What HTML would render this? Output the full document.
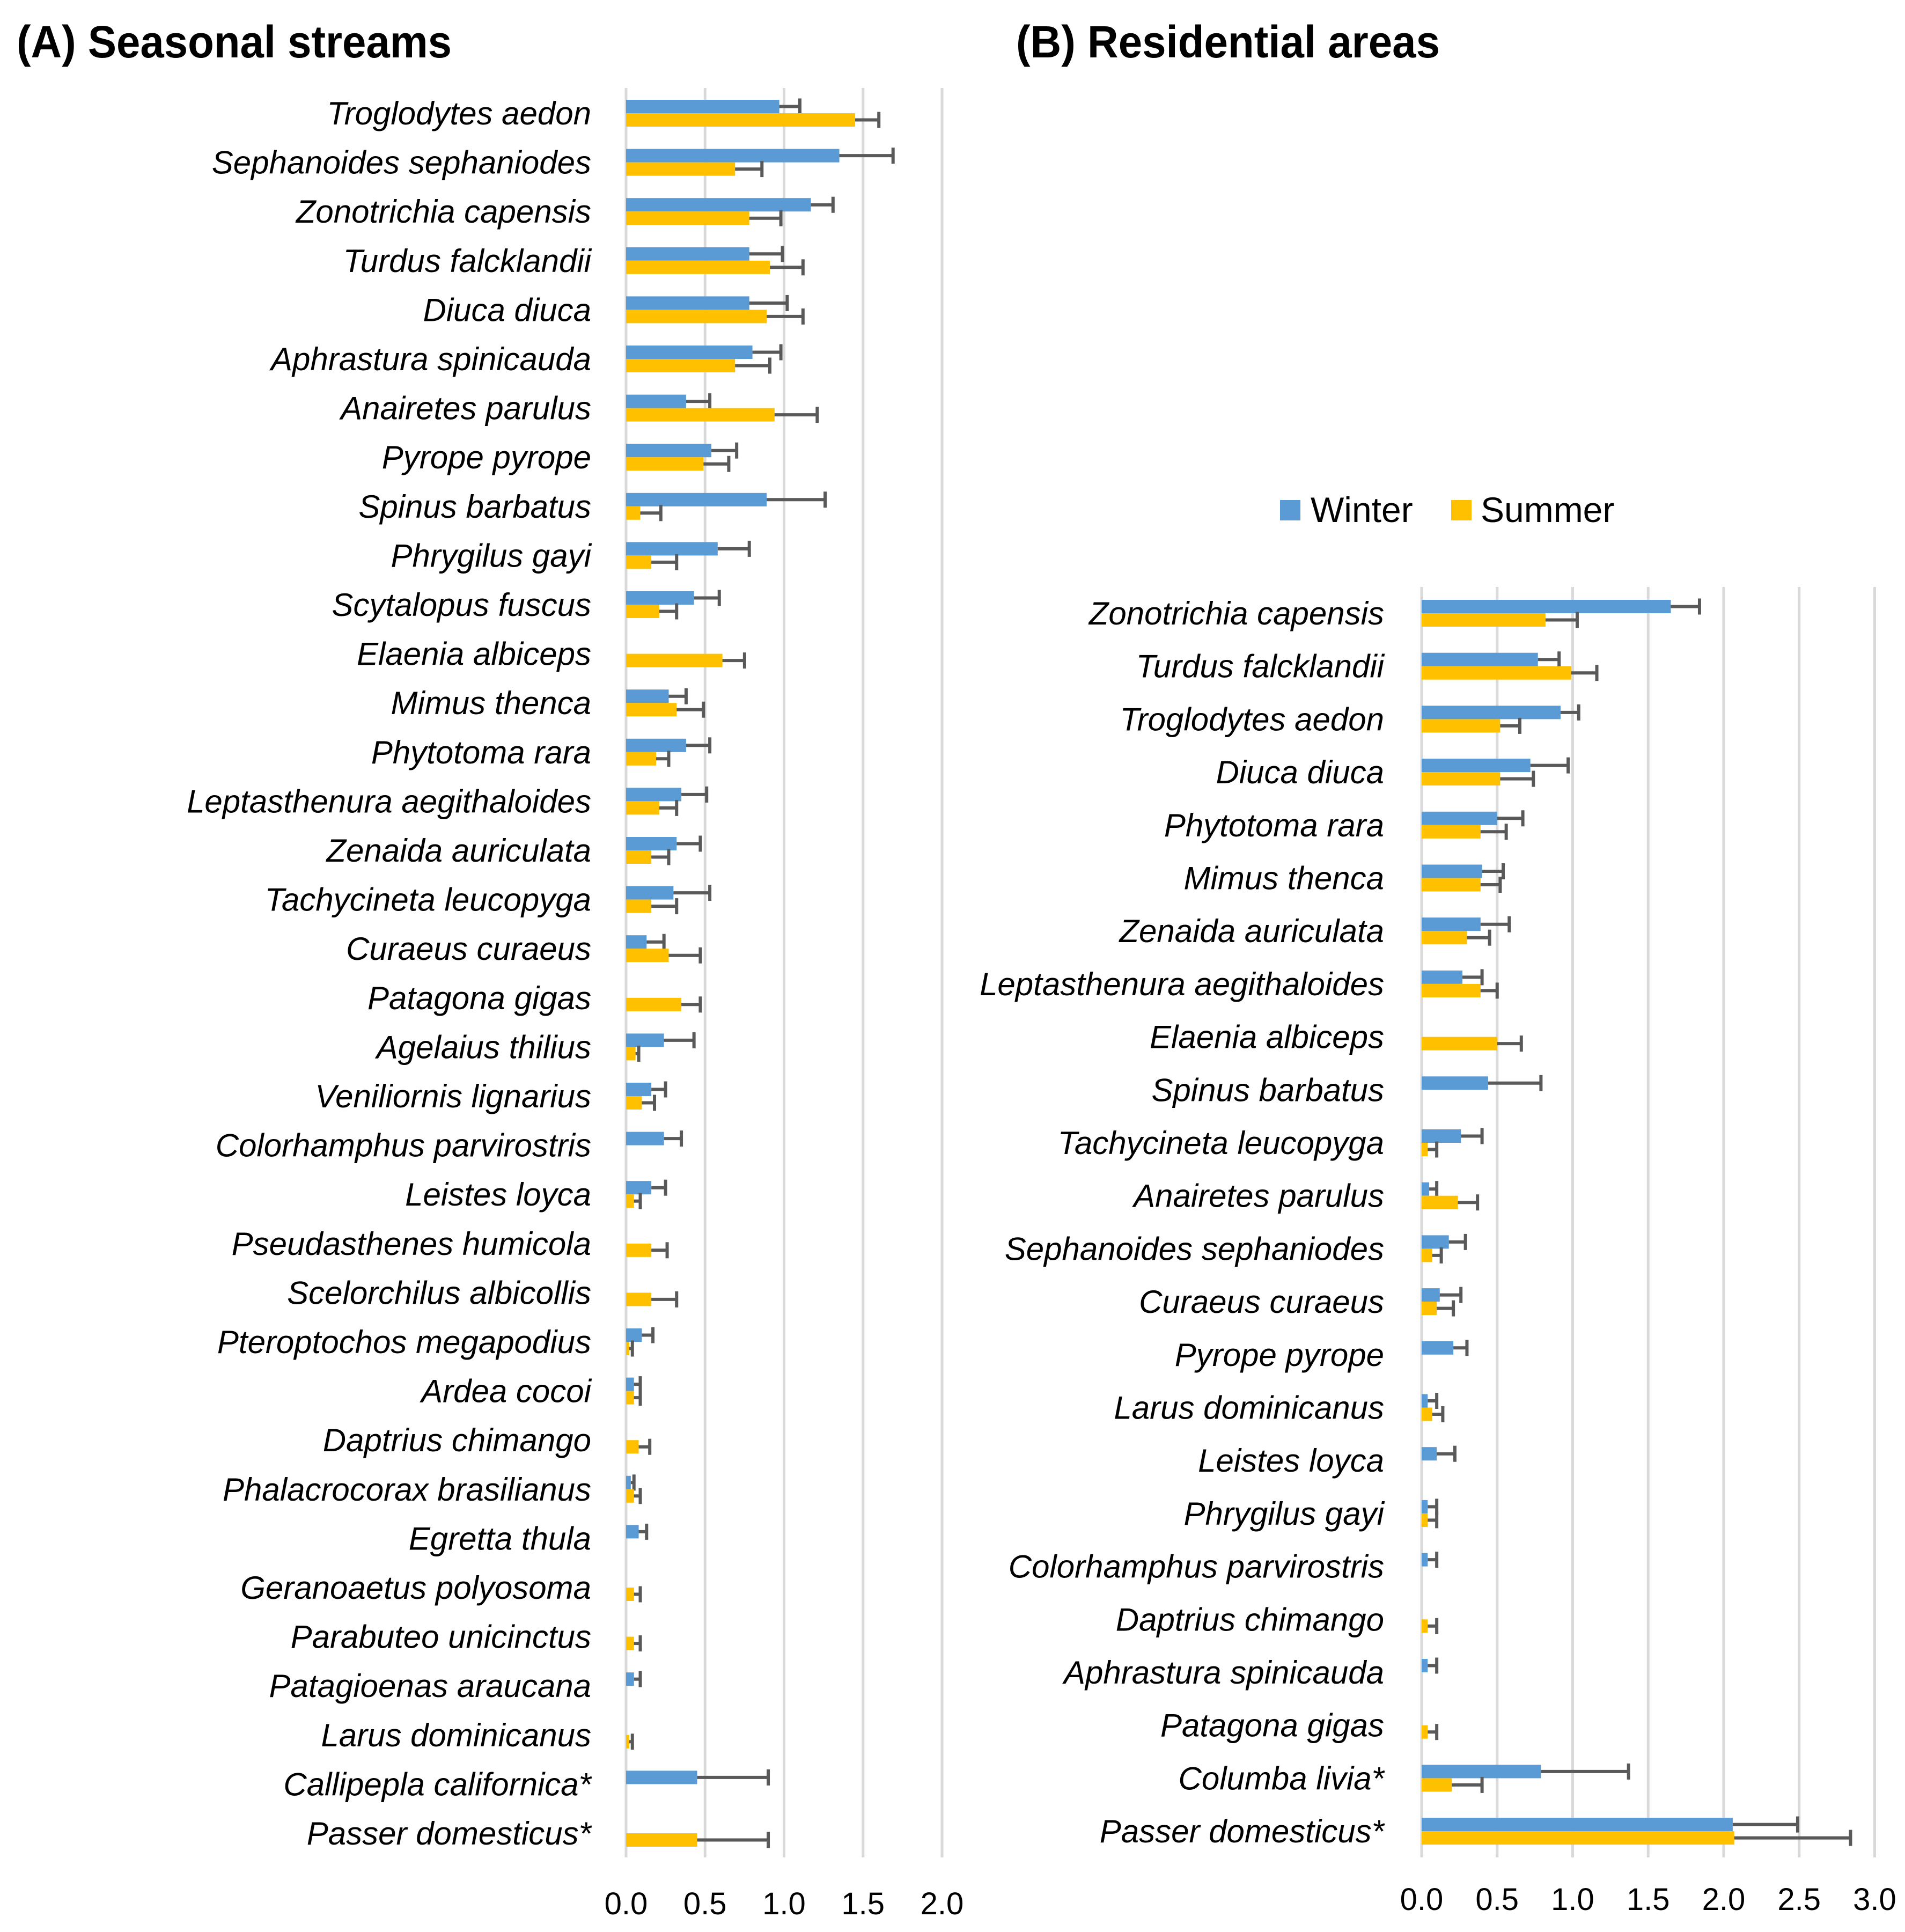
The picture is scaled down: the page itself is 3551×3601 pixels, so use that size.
<!DOCTYPE html>
<html><head><meta charset="utf-8"><style>
html,body{margin:0;padding:0;background:#fff;}
svg{display:block;}
text{font-family:"Liberation Sans",sans-serif;fill:#000;}
</style></head><body>
<svg id="chart" width="3551" height="3601" viewBox="0 0 3551 3601" xmlns="http://www.w3.org/2000/svg">
<text x="31" y="107" font-size="84" font-weight="bold" textLength="811" lengthAdjust="spacingAndGlyphs">(A) Seasonal streams</text>
<text x="1894" y="107" font-size="84" font-weight="bold" textLength="790" lengthAdjust="spacingAndGlyphs">(B) Residential areas</text>
<g>
<rect x="2386" y="932" width="38" height="38" fill="#5B9BD5"/>
<text x="2443" y="973" font-size="66">Winter</text>
<rect x="2705" y="932" width="38" height="38" fill="#FFC000"/>
<text x="2760" y="973" font-size="66">Summer</text>
</g>
<g id="panelA"></g>
<g id="panelB"></g>
</svg>
<script>
// Panel A data
const catsA = ["Troglodytes aedon","Sephanoides sephaniodes","Zonotrichia capensis","Turdus falcklandii","Diuca diuca","Aphrastura spinicauda","Anairetes parulus","Pyrope pyrope","Spinus barbatus","Phrygilus gayi","Scytalopus fuscus","Elaenia albiceps","Mimus thenca","Phytotoma rara","Leptasthenura aegithaloides","Zenaida auriculata","Tachycineta leucopyga","Curaeus curaeus","Patagona gigas","Agelaius thilius","Veniliornis lignarius","Colorhamphus parvirostris","Leistes loyca","Pseudasthenes humicola","Scelorchilus albicollis","Pteroptochos megapodius","Ardea cocoi","Daptrius chimango","Phalacrocorax brasilianus","Egretta thula","Geranoaetus polyosoma","Parabuteo unicinctus","Patagioenas araucana","Larus dominicanus","Callipepla californica*","Passer domesticus*"];
const winterA = [0.97,1.35,1.17,0.78,0.78,0.80,0.38,0.54,0.89,0.58,0.43,0,0.27,0.38,0.35,0.32,0.30,0.13,0,0.24,0.16,0.24,0.16,0,0,0.10,0.05,0,0.03,0.08,0,0,0.05,0,0.45,0];
const winterErrA = [1.10,1.69,1.31,0.99,1.02,0.98,0.53,0.70,1.26,0.78,0.59,0,0.38,0.53,0.51,0.47,0.53,0.24,0,0.43,0.25,0.35,0.25,0,0,0.17,0.09,0,0.05,0.13,0,0,0.09,0,0.90,0];
const summerA = [1.45,0.69,0.78,0.91,0.89,0.69,0.94,0.49,0.09,0.16,0.21,0.61,0.32,0.19,0.21,0.16,0.16,0.27,0.35,0.06,0.10,0,0.05,0.16,0.16,0.02,0.05,0.08,0.05,0,0.05,0.05,0,0.02,0,0.45];
const summerErrA = [1.60,0.86,0.98,1.12,1.12,0.91,1.21,0.65,0.22,0.32,0.32,0.75,0.49,0.27,0.32,0.27,0.32,0.47,0.47,0.08,0.18,0,0.09,0.26,0.32,0.04,0.09,0.15,0.09,0,0.09,0.09,0,0.04,0,0.90];
const ticksA = [0,0.5,1.0,1.5,2.0];
// Panel B data
const catsB = ["Zonotrichia capensis","Turdus falcklandii","Troglodytes aedon","Diuca diuca","Phytotoma rara","Mimus thenca","Zenaida auriculata","Leptasthenura aegithaloides","Elaenia albiceps","Spinus barbatus","Tachycineta leucopyga","Anairetes parulus","Sephanoides sephaniodes","Curaeus curaeus","Pyrope pyrope","Larus dominicanus","Leistes loyca","Phrygilus gayi","Colorhamphus parvirostris","Daptrius chimango","Aphrastura spinicauda","Patagona gigas","Columba livia*","Passer domesticus*"];
const winterB = [1.65,0.77,0.92,0.72,0.50,0.40,0.39,0.27,0,0.44,0.26,0.05,0.18,0.12,0.21,0.04,0.10,0.04,0.04,0,0.04,0,0.79,2.06];
const winterErrB = [1.84,0.91,1.04,0.97,0.67,0.54,0.58,0.40,0,0.79,0.40,0.10,0.29,0.26,0.30,0.10,0.22,0.10,0.10,0,0.10,0,1.37,2.49];
const summerB = [0.82,0.99,0.52,0.52,0.39,0.39,0.30,0.39,0.50,0,0.04,0.24,0.07,0.10,0,0.07,0,0.04,0,0.04,0,0.04,0.20,2.07];
const summerErrB = [1.03,1.16,0.65,0.74,0.56,0.52,0.45,0.50,0.66,0,0.10,0.37,0.13,0.21,0,0.14,0,0.10,0,0.10,0,0.10,0.40,2.84];
const ticksB = [0,0.5,1.0,1.5,2.0,2.5,3.0];

const NS = "http://www.w3.org/2000/svg";
function mk(tag, attrs, parent){
  const e = document.createElementNS(NS, tag);
  for (const k in attrs) e.setAttribute(k, attrs[k]);
  parent.appendChild(e);
  return e;
}
function drawPanel(g, cfg, cats, w, we, s, se, ticks, prefix){
  const xs = v => cfg.x0 + v * cfg.unit;
  const ys = i => cfg.row0 + i * cfg.step;
  ticks.forEach((t, i) => {
    const gl = mk("line", {x1: xs(t), x2: xs(t), y1: cfg.top, y2: cfg.bottom, stroke: "#D9D9D9", "stroke-width": 5}, g);
    
    
    const tl = mk("text", {x: xs(t), y: cfg.tickY, "font-size": 58, "text-anchor": "middle"}, g);
    tl.textContent = t.toFixed(1);
    
    
  });
  const bh = 25;
  cats.forEach((c, i) => {
    const cy = ys(i);
    const lab = mk("text", {x: cfg.labelRight, y: cy + 21, "font-size": 60, "font-style": "italic", "text-anchor": "end"}, g);
    lab.textContent = c;
    
    
    [[w[i], we[i], "#5B9BD5", cy - bh, 'winter'], [s[i], se[i], "#FFC000", cy, 'summer']].forEach(([v, e, col, y, nm]) => {
      if (v <= 0) return;
      const r = mk("rect", {x: xs(0), y: y, width: Math.max(0, xs(v) - xs(0)), height: bh, fill: col}, g);
      
      
      const my = y + bh / 2;
      const el = mk("line", {x1: xs(v), x2: xs(e), y1: my, y2: my, stroke: "#595959", "stroke-width": 6}, g);
      
      
      const cap = mk("line", {x1: xs(e), x2: xs(e), y1: my - 15, y2: my + 15, stroke: "#595959", "stroke-width": 6}, g);
      
      
    });
  });
}
drawPanel(document.getElementById("panelA"), {x0:1167, unit:294.5, row0:211, step:91.6, top:164, bottom:3462, tickY:3568, labelRight:1102}, catsA, winterA, winterErrA, summerA, summerErrA, ticksA, 'panel-a');
drawPanel(document.getElementById("panelB"), {x0:2650, unit:281.5, row0:1143, step:98.7, top:1094, bottom:3462, tickY:3560, labelRight:2580}, catsB, winterB, winterErrB, summerB, summerErrB, ticksB, 'panel-b');
</script>
</body></html>
